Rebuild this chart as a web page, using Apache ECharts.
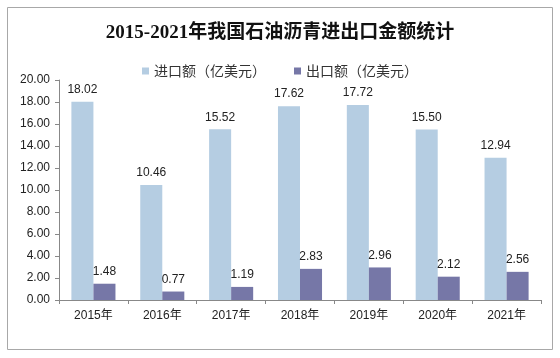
<!DOCTYPE html>
<html><head><meta charset="utf-8">
<script src="https://cdn.jsdelivr.net/npm/echarts@6/dist/echarts.min.js"></script>
<style>html,body{margin:0;padding:0;background:#fff}#c{width:560px;height:358px}</style>
</head><body><div id="c"></div>
<script>
const categories = ['2015年','2016年','2017年','2018年','2019年','2020年','2021年'];
const importValues = [18.02, 10.46, 15.52, 17.62, 17.72, 15.50, 12.94];
const exportValues = [1.48, 0.77, 1.19, 2.83, 2.96, 2.12, 2.56];
const seriesNames = ['进口额（亿美元）', '出口额（亿美元）'];
const titleText = '2015-2021年我国石油沥青进出口金额统计';

const chart = echarts.init(document.getElementById('c'), null, {renderer:'canvas'});
const labelStyle = {show:true, position:'top', distance:6, color:'#222', fontSize:12, fontFamily:'Liberation Sans, Arial, sans-serif', formatter: p => p.value.toFixed(2)};
chart.setOption({
  backgroundColor:'#fff',
  animation:false,
  graphic:[{type:'rect', shape:{x:7.5,y:7.5,width:545,height:342}, style:{fill:'none', stroke:'#a8a8a8', lineWidth:1}, silent:true, z:-1}],
  title:{text:titleText, left:'center', top:19, textStyle:{fontSize:19, fontWeight:'bold', color:'#111', fontFamily:'Liberation Serif, Noto Sans CJK SC, serif'}},
  legend:{data:seriesNames, top:59, left:'center', itemWidth:7, itemHeight:7, itemGap:28, icon:'rect', textStyle:{fontSize:14, color:'#333', fontFamily:'Noto Sans CJK SC, sans-serif'}},
  grid:{left:59, right:19, top:80, bottom:58},
  xAxis:{type:'category', data:categories,
    axisLine:{lineStyle:{color:'#888'}}, axisTick:{show:true, length:4, lineStyle:{color:'#888'}},
    axisLabel:{color:'#222', fontSize:12, margin:10, fontFamily:'Liberation Sans, Noto Sans CJK SC, sans-serif'}},
  yAxis:{type:'value', min:0, max:20, interval:2,
    axisLine:{show:true, lineStyle:{color:'#888'}}, axisTick:{show:true, length:4, lineStyle:{color:'#888'}},
    splitLine:{show:false},
    axisLabel:{color:'#222', fontSize:12, margin:9, fontFamily:'Liberation Sans, Arial, sans-serif', formatter: v => v.toFixed(2)}},
  series:[
    {name:seriesNames[0], type:'bar', data:importValues, barGap:'0%', barCategoryGap:'36%', itemStyle:{color:'#b5cde2'}, label:labelStyle},
    {name:seriesNames[1], type:'bar', data:exportValues, barGap:'0%', barCategoryGap:'36%', itemStyle:{color:'#7677a7'}, label:labelStyle}
  ]
});
</script></body></html>
